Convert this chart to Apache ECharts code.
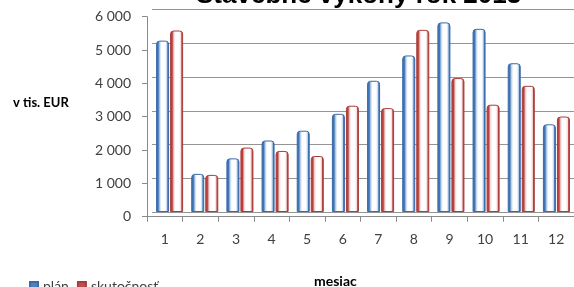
<!DOCTYPE html>
<html>
<head>
<meta charset="utf-8">
<script src="https://cdn.jsdelivr.net/npm/echarts@6/dist/echarts.min.js"></script>
<style>
html,body{margin:0;padding:0;background:#fff;}
#chart{width:574px;height:287px;}
</style>
</head>
<body>
<div id="chart"></div>
<script>
const titleText = 'Stavebné výkony rok 2013';
const categories = ['1','2','3','4','5','6','7','8','9','10','11','12'];
const planValues = [5080, 1130, 1590, 2120, 2410, 2910, 3890, 4640, 5620, 5430, 4410, 2600];
const actualValues = [5380, 1100, 1910, 1810, 1660, 3150, 3080, 5400, 3970, 3180, 3740, 2830];
const seriesNames = ['plán', 'skutočnosť'];
const yAxisName = 'v tis. EUR';
const xAxisName = 'mesiac';

const chart = echarts.init(document.getElementById('chart'));
const font = 'Lato, "Open Sans", sans-serif';

function barFill(edge, light) {
  return new echarts.graphic.LinearGradient(0, 0, 1, 0, [
    {offset: 0, color: edge},
    {offset: 0.16, color: edge},
    {offset: 0.3, color: light},
    {offset: 0.42, color: '#ffffff'},
    {offset: 0.7, color: '#ffffff'},
    {offset: 0.82, color: light},
    {offset: 0.9, color: edge},
    {offset: 1, color: edge}
  ]);
}

chart.setOption({
  animation: false,
  backgroundColor: '#ffffff',
  grid: [
    {left: 147, width: 427, top: 16.7, height: 200},
    {left: 152, width: 424, top: 9.6, height: 202.4}
  ],
  xAxis: [
    {
      type: 'category', gridIndex: 0, data: categories,
      axisLine: {lineStyle: {color: '#8a8a8a', width: 1}},
      axisTick: {show: true, alignWithLabel: false, length: 5, lineStyle: {color: '#8a8a8a'}},
      axisLabel: {color: '#404040', fontSize: 14, fontFamily: font, margin: 16, interval: 0},
      splitLine: {show: false}
    },
    {
      type: 'category', gridIndex: 1, data: categories,
      axisLine: {show: false}, axisTick: {show: false}, axisLabel: {show: false}, splitLine: {show: false}
    }
  ],
  yAxis: [
    {
      type: 'value', gridIndex: 0, min: 0, max: 6000, interval: 1000,
      axisLine: {show: true, lineStyle: {color: '#8a8a8a', width: 1}},
      axisTick: {show: true, length: 5, lineStyle: {color: '#8a8a8a'}},
      axisLabel: {
        color: '#404040', fontSize: 14, fontFamily: font, margin: 16,
        formatter: v => v >= 1000 ? Math.floor(v / 1000) + '\u00a0000' : String(v)
      },
      splitLine: {show: false}
    },
    {
      type: 'value', gridIndex: 1, min: 0, max: 6000, interval: 1000,
      axisLine: {show: false}, axisTick: {show: false}, axisLabel: {show: false},
      splitLine: {show: true, lineStyle: {color: '#949494', width: 1.2}}
    }
  ],
  legend: {
    left: 24, top: 274, itemWidth: 8, itemHeight: 8, itemGap: 8,
    icon: 'rect',
    textStyle: {color: '#404040', fontSize: 14, fontFamily: font},
    data: [
      {name: seriesNames[0], itemStyle: {color: '#4f81bd'}},
      {name: seriesNames[1], itemStyle: {color: '#c0504d'}}
    ]
  },
  series: [
    {
      name: seriesNames[0], type: 'bar', xAxisIndex: 1, yAxisIndex: 1,
      data: planValues, barWidth: 13, barGap: '8%',
      itemStyle: {color: barFill('#3f73b3', '#c6d9f1'), borderColor: '#3a6aa8', borderWidth: 1, borderRadius: [3, 3, 0, 0]}
    },
    {
      name: seriesNames[1], type: 'bar', xAxisIndex: 1, yAxisIndex: 1,
      data: actualValues, barWidth: 13, barGap: '8%',
      itemStyle: {color: barFill('#b9403d', '#f2dcdb'), borderColor: '#a83c39', borderWidth: 1, borderRadius: [3, 3, 0, 0]}
    }
  ],
  graphic: [
    {type: 'text', top: -17, left: 196, style: {text: titleText, fill: '#000', font: 'bold 26px "Liberation Sans", Arial, sans-serif'}},
    {type: 'text', left: 13, top: 96, style: {text: yAxisName, fill: '#000', font: 'bold 13px ' + font}},
    {type: 'text', left: 314, top: 274, style: {text: xAxisName, fill: '#000', font: 'bold 14px ' + font}}
  ]
});
</script>
</body>
</html>
